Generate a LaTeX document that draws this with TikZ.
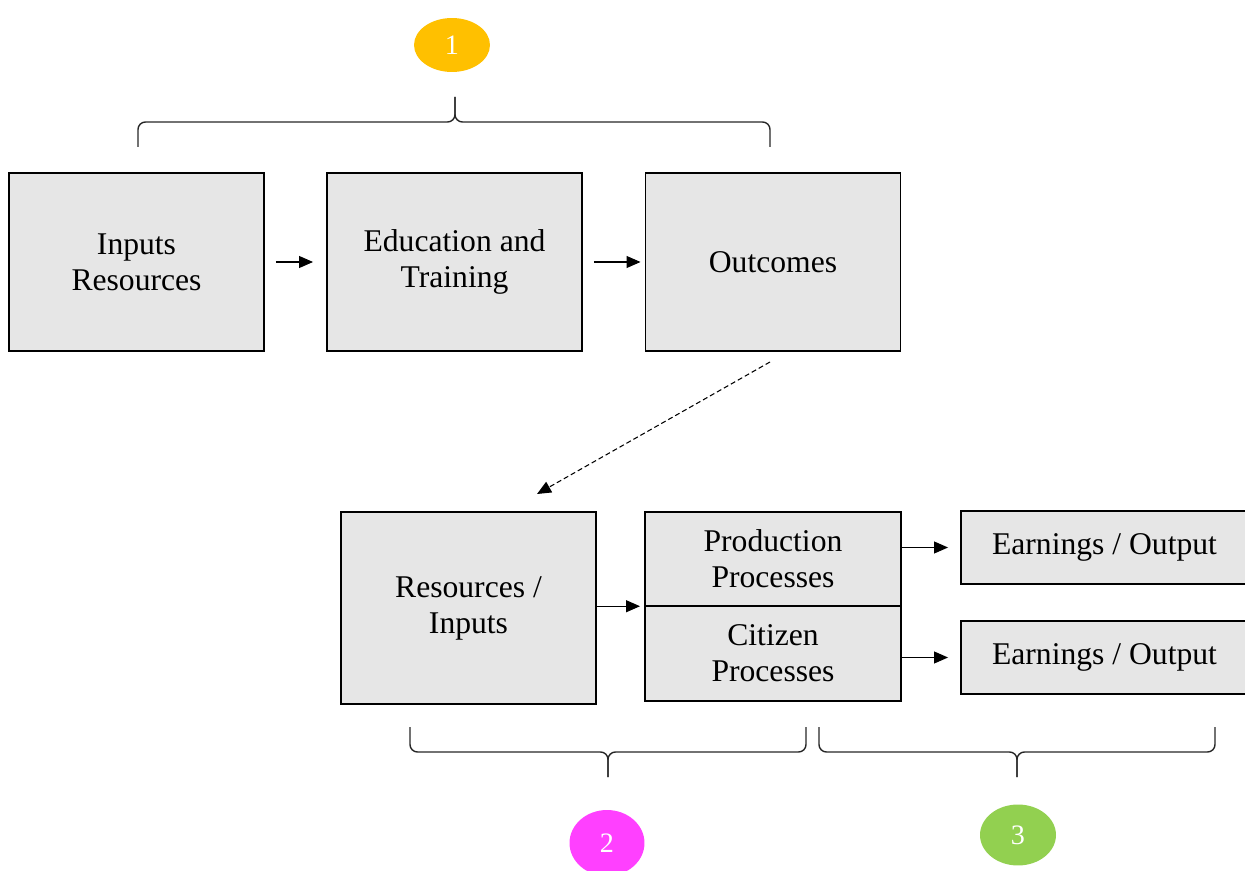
\documentclass[tikz,border=0pt]{standalone}
\usepackage{fontspec}
\setmainfont{Liberation Serif}
\usetikzlibrary{positioning,arrows.meta,shapes.geometric,calc}
\definecolor{boxgray}{RGB}{230,230,230}
\definecolor{stepyellow}{RGB}{255,192,0}
\definecolor{steppink}{RGB}{255,64,255}
\definecolor{stepgreen}{RGB}{146,208,80}
\tikzstyle{block}=[draw=black,fill=boxgray,line width=1.1pt,inner sep=0pt,outer sep=0pt,align=center,font=\fontsize{18}{20.5}\selectfont]
\tikzstyle{bigblock}=[block,minimum width=5.1cm,minimum height=3.56cm]
\tikzstyle{halfblock}=[block,minimum width=5.12cm,minimum height=1.89cm]
\tikzstyle{outblock}=[block,minimum width=5.74cm,minimum height=1.46cm]
\tikzstyle{marker}=[ellipse,text=white,inner sep=0pt,minimum width=1.52cm,font=\fontsize{16}{16}\selectfont]
\tikzstyle{flow}=[draw=black,line width=0.6pt,-{Triangle[length=0.28cm,width=0.24cm]}]
\tikzstyle{bracket}=[draw=black!85,line width=0.8pt,rounded corners=0.15cm]

\begin{document}
\begin{tikzpicture}[x=0.02cm,y=-0.02cm]
  \useasboundingbox (0,0) rectangle (1245,871);

  % education chain
  \foreach \pos / \name / \txt in {{(136.5,262)/inp/{Inputs\\Resources}},
                                   {(454.5,262)/edu/{Education and\\Training}},
                                   {(773,262)/out/Outcomes}}
    \node[bigblock] (\name) at \pos {\txt};

  % economic side
  \node[bigblock,minimum height=3.84cm] (res) at (468.5,608) {Resources /\\Inputs};
  \node[halfblock] (prod) at (773,559) {Production\\Processes};
  \node[halfblock,below=0pt of prod] (cit) {Citizen\\Processes};
  \node[outblock] (earn1) at (1104.5,547.5) {Earnings / Output};
  \node[outblock] (earn2) at (1104.5,657.5) {Earnings / Output};

  % step markers
  \node[marker,fill=stepyellow,minimum height=1.08cm] (m1) at (452,45) {1};
  \node[marker,fill=steppink,minimum width=1.5cm,minimum height=1.32cm] (m2) at (607,843) {2};
  \node[marker,fill=stepgreen,minimum height=1.22cm] (m3) at (1018,835) {3};

  % Connect blocks with arrows
  \path[flow,shorten <=0.24cm,shorten >=0.28cm] (inp) -- (edu);
  \path[flow,shorten <=0.24cm,shorten >=0.1cm] (edu) -- (out);
  \path[flow,shorten >=0.1cm] (prod.south west -| res.east) -- (prod.south west);
  \path[flow,shorten >=0.26cm] (earn1.west -| prod.east) -- (earn1.west);
  \path[flow,shorten >=0.26cm] (earn2.west -| cit.east) -- (earn2.west);

  \coordinate (dashend) at (537,494);
  \path[flow,dashed,dash pattern=on 0.1cm off 0.06cm] ([shift={(-3,11)}]out.south) -- (dashend);

  % braces
  \draw[bracket] (138,147) -- (138,122) -- (455,122) -- (455,97);
  \draw[bracket] (770,147) -- (770,122) -- (455,122) -- (455,97);
  \draw[bracket] (410,727) -- (410,752) -- (608,752) -- (608,777);
  \draw[bracket] (806,727) -- (806,752) -- (608,752) -- (608,777);
  \draw[bracket] (819,727) -- (819,752) -- (1017,752) -- (1017,777);
  \draw[bracket] (1215,727) -- (1215,752) -- (1017,752) -- (1017,777);
\end{tikzpicture}
\end{document}
